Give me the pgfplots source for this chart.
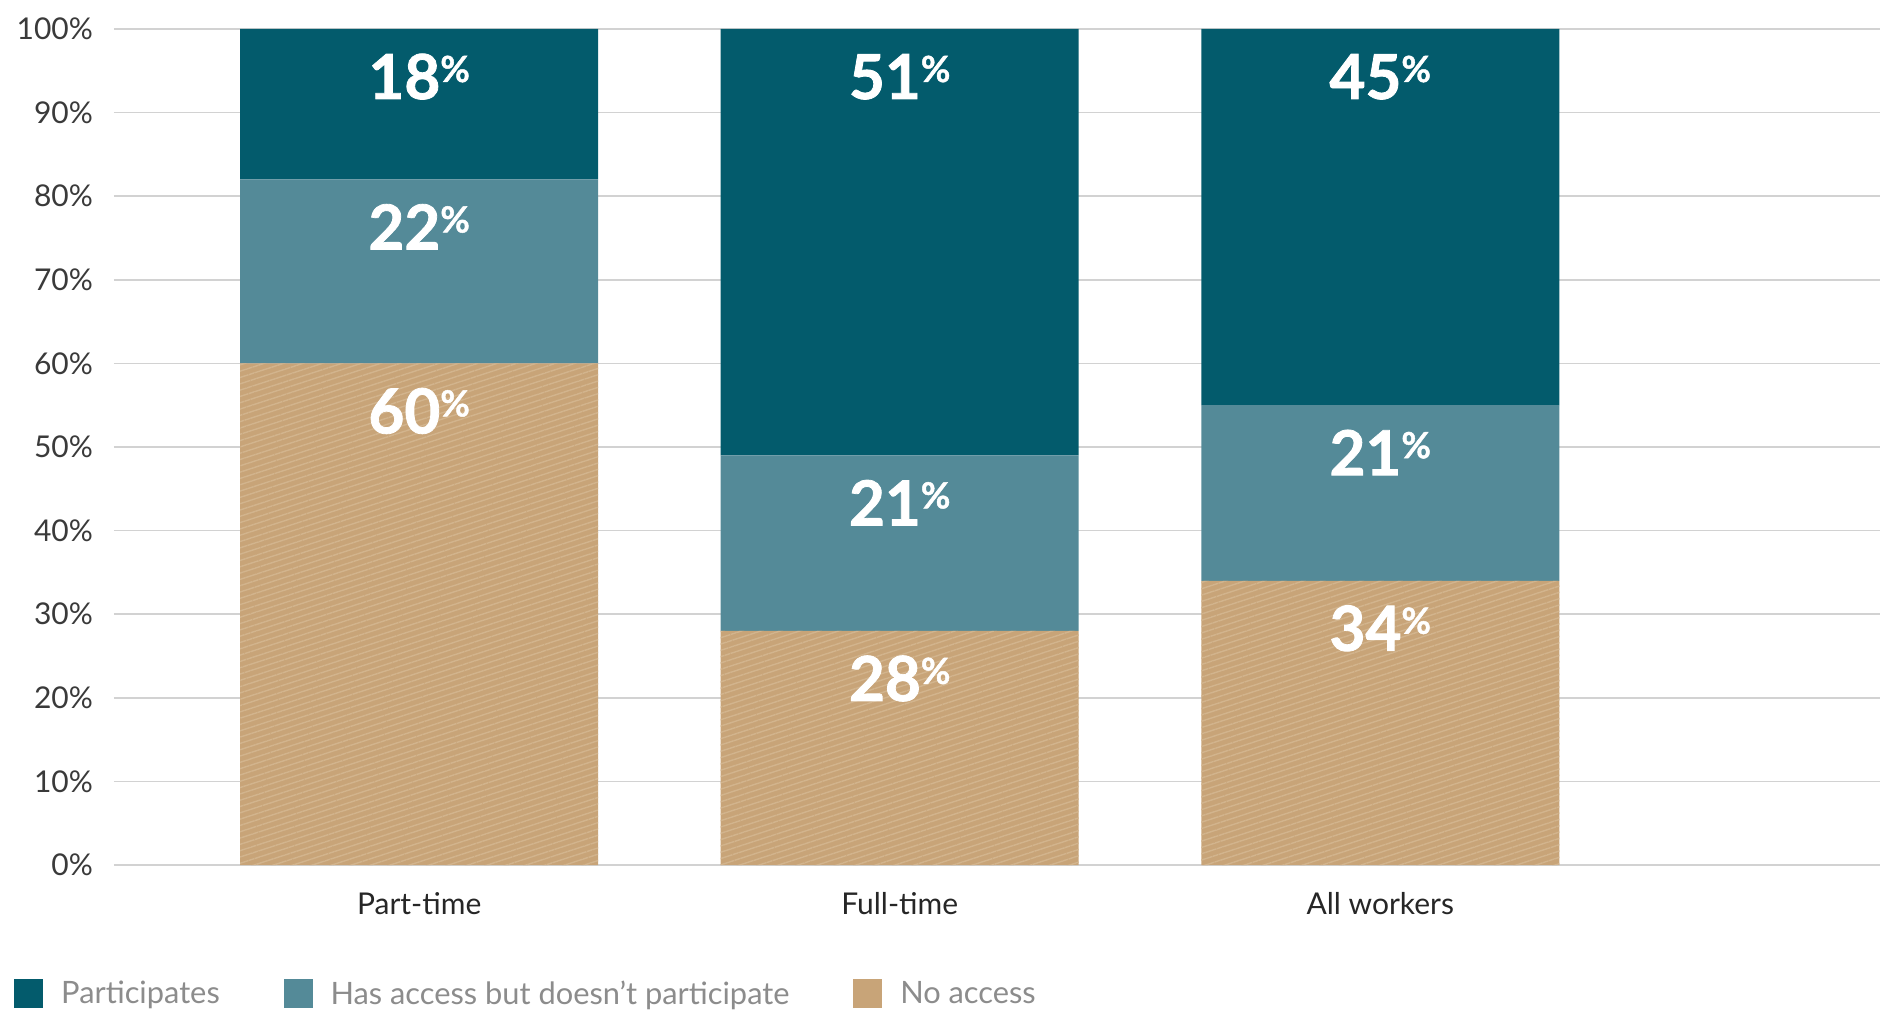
\documentclass[border=0pt]{standalone}
\usepackage{pgfplots}
\usepackage{pgfplotstable}
\pgfplotsset{compat=1.18}
\usetikzlibrary{patterns.meta}
\usepackage{fontspec}
\setmainfont{Lato}
\definecolor{cPart}{HTML}{035B6C}
\definecolor{cAcc}{HTML}{548A98}
\definecolor{cNo}{HTML}{C8A478}
\definecolor{cHatch}{HTML}{D2B48D}
\definecolor{cGrid}{HTML}{D2D2D2}
\definecolor{cTick}{HTML}{3A3A3A}
\definecolor{cLeg}{HTML}{8C8C8C}
\newcommand\pctlbl[1]{{\bfseries\addfontfeatures{FakeBold=1.3}\fontsize{31}{31}\selectfont #1\raisebox{8.5pt}{\fontsize{18}{18}\selectfont\%}}}
\pgfplotstableread{
x no acc part
0 60 22 18
1 28 21 51
2 34 21 45
}\mytable
\begin{document}
\begin{tikzpicture}
\path[use as bounding box] (-57pt,-76pt) rectangle (884.5pt,432.5pt);
\begin{axis}[
  at={(0pt,0pt)}, anchor=south west,
  scale only axis, width=883pt, height=418pt,
  ybar stacked, bar width=179pt,
  xmin=-0.635, xmax=3.04, ymin=0, ymax=100,
  xtick={0,1,2}, xticklabels={Part-time,Full-time,All workers},
  ytick={0,10,...,100}, yticklabel={\pgfmathprintnumber{\tick}\%},
  /pgf/number format/assume math mode=true,
  major tick length=0pt,
  axis line style={draw=none},
  ymajorgrids, grid style={cGrid, line width=0.8pt},
  yticklabel style={font=\fontsize{15}{15}\selectfont, text=cTick, xshift=-7pt},
  xticklabel style={font=\fontsize{15}{15}\selectfont, text=black!85, yshift=-10pt},
  legend columns=3,
  legend style={at={(axis description cs:-0.0566,-0.154)}, anchor=west, draw=none, inner sep=0pt,
    font=\fontsize{15.4}{15.4}\selectfont, text=cLeg,
    nodes={inner xsep=0pt},
    /tikz/every odd column/.append style={column sep=9pt},
    /tikz/every even column/.append style={column sep=32pt}},
  area legend,
  legend image post style={xscale=0.82, yscale=2.46},
  nodes near coords={\pctlbl{\pgfplotspointmeta}},
  point meta=explicit symbolic,
  every node near coord/.append style={text=white, anchor=base, yshift={(\segv*2.09-35)*1pt}},
]
\addplot[fill=cNo, draw=none, forget plot, visualization depends on={\thisrow{no} \as \segv},
  postaction={pattern={Lines[angle=18,distance=3pt,line width=0.7pt]}, pattern color=cHatch}]
  table[x=x,y=no,meta=no]{\mytable};
\addplot[fill=cAcc, draw=none, forget plot, visualization depends on={\thisrow{acc} \as \segv}]
  table[x=x,y=acc,meta=acc]{\mytable};
\addplot[fill=cPart, draw=none, forget plot, visualization depends on={\thisrow{part} \as \segv}]
  table[x=x,y=part,meta=part]{\mytable};
\addlegendimage{area legend, fill=cPart, draw=cPart}
\addlegendentry{Participates}
\addlegendimage{area legend, fill=cAcc, draw=cAcc}
\addlegendentry{Has access but doesn't participate}
\addlegendimage{area legend, fill=cNo, draw=cNo}
\addlegendentry{No access}
\end{axis}
\end{tikzpicture}
\end{document}
